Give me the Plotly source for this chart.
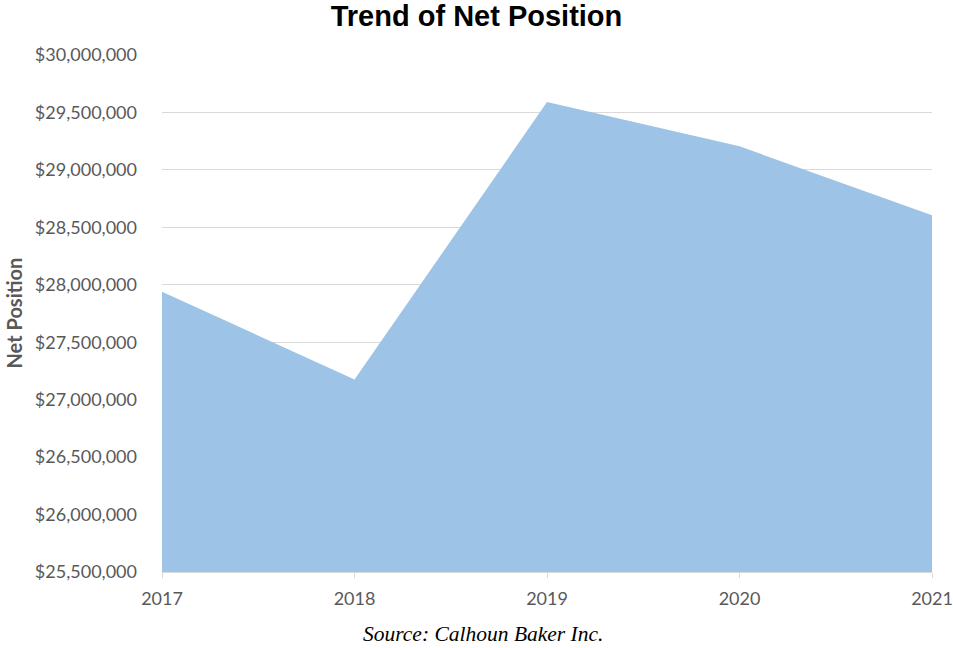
import plotly.graph_objects as go

# Net position by fiscal year
years = [2017, 2018, 2019, 2020, 2021]
net_position = [27940000, 27175000, 29590000, 29205000, 28605000]

fig = go.Figure()

fig.add_trace(go.Scatter(
    x=years,
    y=net_position,
    mode='lines',
    fill='tozeroy',
    fillcolor='#9DC3E6',
    line=dict(width=0, color='#9DC3E6'),
    hoverinfo='x+y',
    showlegend=False
))

fig.update_layout(
    width=953,
    height=648,
    margin=dict(l=162, r=21, t=55, b=76),
    title=dict(
        text="<b>Trend of Net Position</b>",
        x=0.5, xanchor='center',
        y=0.975, yanchor='middle',
        font=dict(family="Liberation Sans, Arial", size=29, color='black')
    ),
    plot_bgcolor='white',
    paper_bgcolor='white',
    xaxis=dict(
        range=[2017, 2021],
        tickvals=years,
        ticktext=[str(y) for y in years],
        automargin=False,
        showgrid=False,
        showline=True,
        linecolor='#D9D9D9',
        linewidth=1,
        ticks='outside',
        ticklen=5,
        tickcolor='#D9D9D9',
        ticklabelstandoff=5,
        tickfont=dict(family="Lato, Carlito, Calibri", size=18, color='#595959'),
        zeroline=False
    ),
    yaxis=dict(
        range=[25500000, 30000000],
        dtick=500000,
        tickformat='$,.0f',
        automargin=False,
        showgrid=True,
        gridcolor='#D9D9D9',
        gridwidth=1,
        zeroline=False,
        ticks='',
        ticklabelstandoff=24,
        tickfont=dict(family="Lato, Carlito, Calibri", size=18, color='#595959')
    ),
    annotations=[
        dict(
            text="<b>Net Position</b>",
            textangle=-90,
            x=-0.1935, xref='paper', xanchor='center',
            y=0.5, yref='paper', yanchor='middle',
            showarrow=False,
            font=dict(family="Lato, Carlito, Calibri", size=20, color='#595959')
        ),
        dict(
            text="<i>Source: Calhoun Baker Inc.</i>",
            x=0.4175, xref='paper', xanchor='center',
            y=-0.12, yref='paper', yanchor='middle',
            showarrow=False,
            font=dict(family="Liberation Serif, Times New Roman", size=21.5, color='black')
        )
    ]
)

# drop the default 8px body margin so the figure fills the window exactly
fig.write_html("out.html", config={'displayModeBar': False},
               post_script="document.body.style.margin = '0';")
